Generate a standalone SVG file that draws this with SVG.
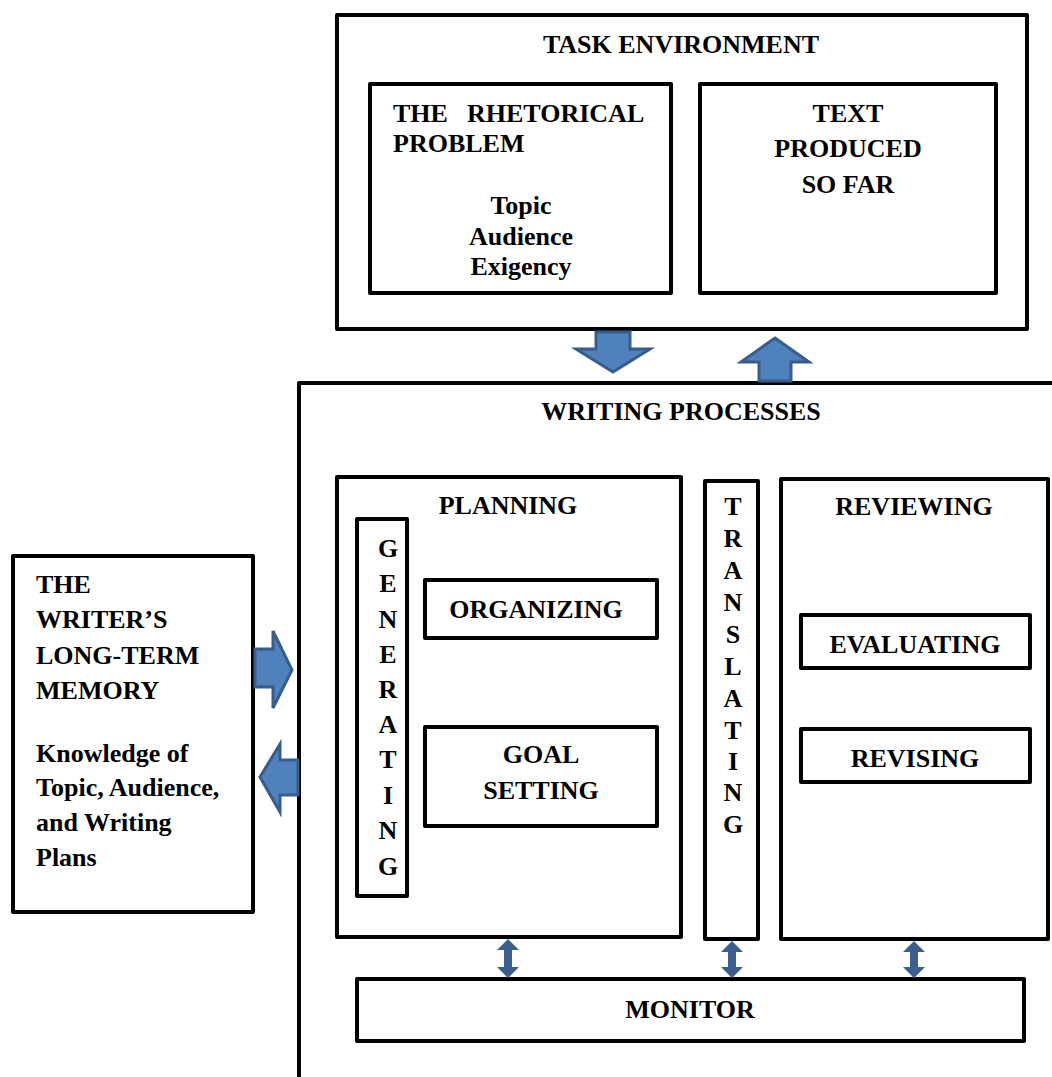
<svg xmlns="http://www.w3.org/2000/svg" width="1052" height="1077" viewBox="0 0 1052 1077">
<style>
.box{fill:#fff;stroke:#000;stroke-width:4;stroke-linejoin:round}
.t{font-family:"Liberation Serif","Times New Roman",serif;font-weight:bold;font-size:26px;fill:#000}
.c{text-anchor:middle}
.big{fill:#4F81BD;stroke:#385D8A;stroke-width:3;stroke-linejoin:miter}
.dbl{fill:#3B5E8C}
</style>
<rect width="1052" height="1077" fill="#fff"/>

<g id="task-environment">
<rect class="box" x="337" y="15" width="690" height="314"/>
<text class="t c" x="681" y="53">TASK ENVIRONMENT</text>
</g>
<g id="rhetorical-problem">
<rect class="box" x="370" y="84" width="301" height="209"/>
<text class="t" y="122"><tspan x="393">THE</tspan><tspan x="467">RHETORICAL</tspan></text>
<text class="t" x="393" y="152">PROBLEM</text>
<text class="t c" x="521" y="214">Topic</text>
<text class="t c" x="521" y="245">Audience</text>
<text class="t c" x="521" y="275">Exigency</text>
</g>
<g id="text-produced">
<rect class="box" x="700" y="84" width="296" height="209"/>
<text class="t c" x="848" y="122">TEXT</text>
<text class="t c" x="848" y="157">PRODUCED</text>
<text class="t c" x="848" y="193">SO FAR</text>
</g>

<g id="writing-processes">
<rect class="box" x="299" y="383" width="780" height="720"/>
<text class="t c" x="681" y="420">WRITING PROCESSES</text>
</g>
<g id="planning">
<rect class="box" x="337" y="477" width="344" height="460"/>
<text class="t c" x="508" y="514">PLANNING</text>
</g>
<g id="generating">
<rect class="box" x="357" y="519" width="50" height="377"/>
<text class="t c" x="388" y="557">G</text>
<text class="t c" x="388" y="592">E</text>
<text class="t c" x="388" y="628">N</text>
<text class="t c" x="388" y="663">E</text>
<text class="t c" x="388" y="698">R</text>
<text class="t c" x="388" y="733">A</text>
<text class="t c" x="388" y="768">T</text>
<text class="t c" x="388" y="804">I</text>
<text class="t c" x="388" y="839">N</text>
<text class="t c" x="388" y="875">G</text>
</g>
<g id="organizing">
<rect class="box" x="425" y="580" width="232" height="58"/>
<text class="t c" x="536" y="618">ORGANIZING</text>
</g>
<g id="goal-setting">
<rect class="box" x="425" y="727" width="232" height="99"/>
<text class="t c" x="541" y="763">GOAL</text>
<text class="t c" x="541" y="799">SETTING</text>
</g>
<g id="translating">
<rect class="box" x="705" y="481" width="53" height="458"/>
<text class="t c" x="733" y="515">T</text>
<text class="t c" x="733" y="547">R</text>
<text class="t c" x="733" y="579">A</text>
<text class="t c" x="733" y="611">N</text>
<text class="t c" x="733" y="643">S</text>
<text class="t c" x="733" y="675">L</text>
<text class="t c" x="733" y="707">A</text>
<text class="t c" x="733" y="739">T</text>
<text class="t c" x="733" y="770">I</text>
<text class="t c" x="733" y="801">N</text>
<text class="t c" x="733" y="833">G</text>
</g>
<g id="reviewing">
<rect class="box" x="781" y="479" width="267" height="460"/>
<text class="t c" x="914" y="515">REVIEWING</text>
</g>
<g id="evaluating">
<rect class="box" x="801" y="615" width="229" height="53"/>
<text class="t c" x="915" y="653">EVALUATING</text>
</g>
<g id="revising">
<rect class="box" x="801" y="729" width="229" height="53"/>
<text class="t c" x="915" y="767">REVISING</text>
</g>
<g id="monitor">
<rect class="box" x="357" y="979" width="667" height="62"/>
<text class="t c" x="690" y="1018">MONITOR</text>
</g>
<g id="long-term-memory">
<rect class="box" x="13" y="556" width="240" height="356"/>
<text class="t" x="36" y="593">THE</text>
<text class="t" x="36" y="628">WRITER’S</text>
<text class="t" x="36" y="664">LONG-TERM</text>
<text class="t" x="36" y="699">MEMORY</text>
<text class="t" x="36" y="762">Knowledge of</text>
<text class="t" x="36" y="796">Topic, Audience,</text>
<text class="t" x="36" y="831">and Writing</text>
<text class="t" x="36" y="866">Plans</text>
</g>

<g id="connectors">
<polygon class="big" points="596,332 630,332 630,349 650,349 613,372 576,349 596,349"/>
<polygon class="big" points="775,338 809,362 791,362 791,381 759,381 759,362 741,362"/>
<polygon class="big" points="255,649 273,649 273,631 292,670 273,708 273,687 255,687"/>
<polygon class="big" points="260,777 280,744 280,760 298,760 298,795 280,795 280,812"/>
<polygon class="dbl" points="508,939 519,950 512,950 512,967 519,967 508,978 497,967 504,967 504,950 497,950"/>
<polygon class="dbl" points="732,941 743,952 736,952 736,967 743,967 732,978 721,967 728,967 728,952 721,952"/>
<polygon class="dbl" points="914,941 925,952 918,952 918,967 925,967 914,978 903,967 910,967 910,952 903,952"/>
</g>
</svg>
